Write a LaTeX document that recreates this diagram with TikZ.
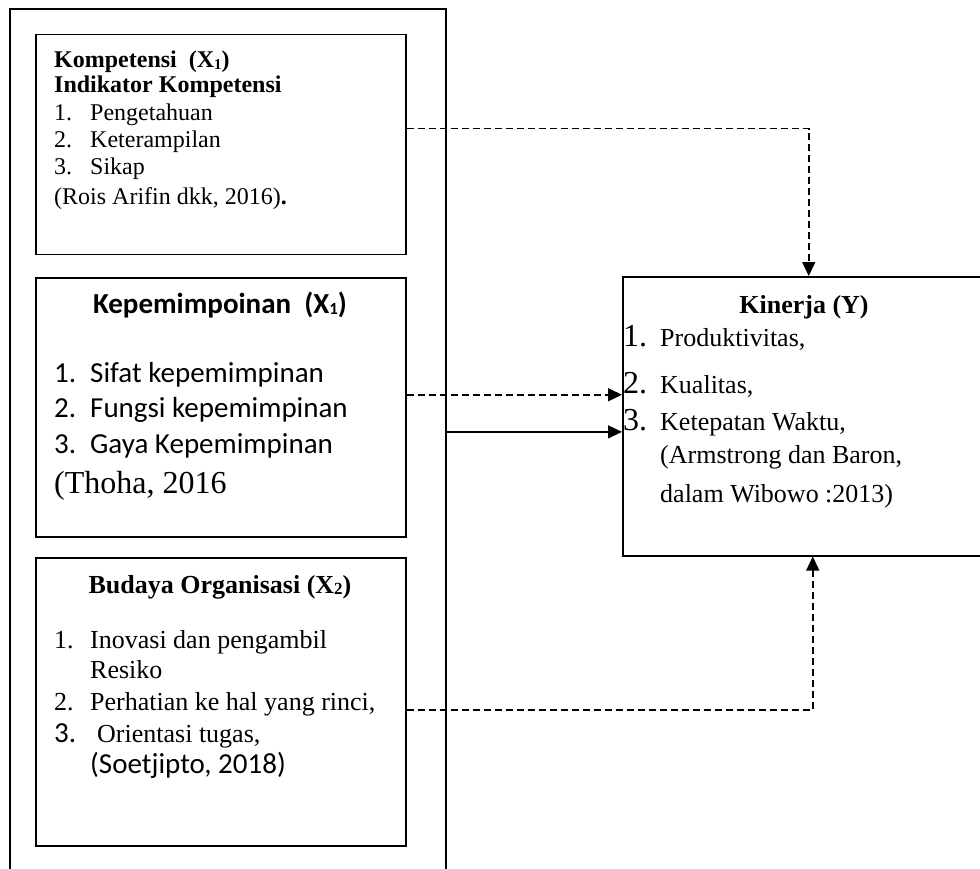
\documentclass[tikz,border=0pt]{standalone}
\usepackage{fontspec}
\setmainfont{Liberation Serif}
\newfontfamily\calfont{Carlito}
\usetikzlibrary{arrows.meta}
\newcommand{\subidx}[2]{\raisebox{-1.5pt}{\fontsize{#1}{#1}\selectfont #2}}
\begin{document}
\begin{tikzpicture}[x=1pt,y=-1pt,
  box/.style={draw, line width=1.5pt, inner sep=0pt, anchor=north west},
  tm/.style={anchor=base west, inner sep=0pt, font=\fontsize{24}{28}\selectfont},
  tmb/.style={anchor=base west, inner sep=0pt, font=\fontsize{26}{30}\selectfont},
  tmbig/.style={anchor=base west, inner sep=0pt, font=\fontsize{32}{36}\selectfont},
  cal/.style={anchor=base west, inner sep=0pt, font=\calfont\fontsize{29}{32}\selectfont},
  conn/.style={line width=1.5pt},
  dsh/.style={conn, dash pattern=on 7pt off 4pt},
  tip/.style={-{Triangle[length=14pt,width=13pt]}}
]
\useasboundingbox (0,0) rectangle (980,869);

% boxes
\node[box, line width=1.8pt, minimum width=436pt, minimum height=900pt] (outer) at (9,8) {};
\node[box, minimum width=370pt, minimum height=220pt] (b1) at (35,34) {};
\node[box, minimum width=370pt, minimum height=259pt] (b2) at (35,277) {};
\node[box, minimum width=370pt, minimum height=288pt] (b3) at (35,557) {};
\node[box, minimum width=372pt, minimum height=279pt] (kin) at (622,276) {};

% box 1
\node[tm] (k1) at (54,68) {\bfseries Kompetensi\ \ (X\subidx{15}{1})};
\node[tm] (k2) at (54,93) {\bfseries Indikator Kompetensi};
\node[tm] (k3n) at (54,121) {1.};
\node[tm] (k3) at (90,121) {Pengetahuan};
\node[tm] (k4n) at (54,148) {2.};
\node[tm] (k4) at (90,148) {Keterampilan};
\node[tm] (k5n) at (54,175) {3.};
\node[tm] (k5) at (90,175) {Sikap};
\node[tm] (k6) at (54,205) {(Rois Arifin dkk, 2016)\textbf{.}};

% box 2
\node[anchor=base, inner sep=0pt, font=\calfont\bfseries\fontsize{29}{32}\selectfont] (p1) at (220,313) {Kepemimpoinan\ \ (X\subidx{17}{1})};
\node[cal] (p2n) at (54,382) {1.};
\node[cal] (p2) at (90,382) {Sifat kepemimpinan};
\node[cal] (p3n) at (54,417) {2.};
\node[cal] (p3) at (90,417) {Fungsi kepemimpinan};
\node[cal] (p4n) at (54,453) {3.};
\node[cal] (p4) at (90,453) {Gaya Kepemimpinan};
\node[tmbig] (p5) at (54,493) {(Thoha, 2016};

% box 3
\node[anchor=base, inner sep=0pt, font=\bfseries\fontsize{26}{30}\selectfont] (o1) at (220,593) {Budaya Organisasi (X\subidx{17}{2})};
\node[tmb] (o2n) at (54,648) {1.};
\node[tmb] (o2) at (90,648) {Inovasi dan pengambil};
\node[tmb] (o3) at (90,678) {Resiko};
\node[tmb] (o4n) at (54,710) {2.};
\node[tmb] (o4) at (90,710) {Perhatian ke hal yang rinci,};
\node[cal] (o5n) at (54,742) {3.};
\node[tmb] (o5) at (97,742) {Orientasi tugas,};
\node[cal] (o6) at (90,773) {(Soetjipto, 2018)};

% Kinerja
\node[anchor=base, inner sep=0pt, font=\bfseries\fontsize{26}{30}\selectfont] (y1) at (804,313) {Kinerja (Y)};
\node[tmbig] (y2n) at (623,346) {1.};
\node[tmb] (y2) at (660,346) {Produktivitas,};
\node[tmbig] (y3n) at (623,393) {2.};
\node[tmb] (y3) at (660,393) {Kualitas,};
\node[tmbig] (y4n) at (623,430) {3.};
\node[tmb] (y4) at (660,430) {Ketepatan Waktu,};
\node[tmb] (y5) at (660,463) {(Armstrong dan Baron,};
\node[tmb] (y6) at (660,502) {dalam Wibowo :2013)};

% connectors
\coordinate (s1) at ([yshift=16pt]b1.east);
\coordinate (s2) at ([yshift=12.5pt]b2.east);
\coordinate (s3) at ([yshift=27pt]outer.east);
\coordinate (s4) at ([yshift=-8pt]b3.east);
\coordinate (e4) at ([xshift=4pt]kin.south);
\draw[dsh, tip] (s1) -| (kin.north);
\draw[dsh, tip] (s2) -- (kin.west |- s2);
\draw[conn, tip] (s3) -- (kin.west |- s3);
\draw[dsh, tip] (s4) -| (e4);
\end{tikzpicture}
\end{document}
